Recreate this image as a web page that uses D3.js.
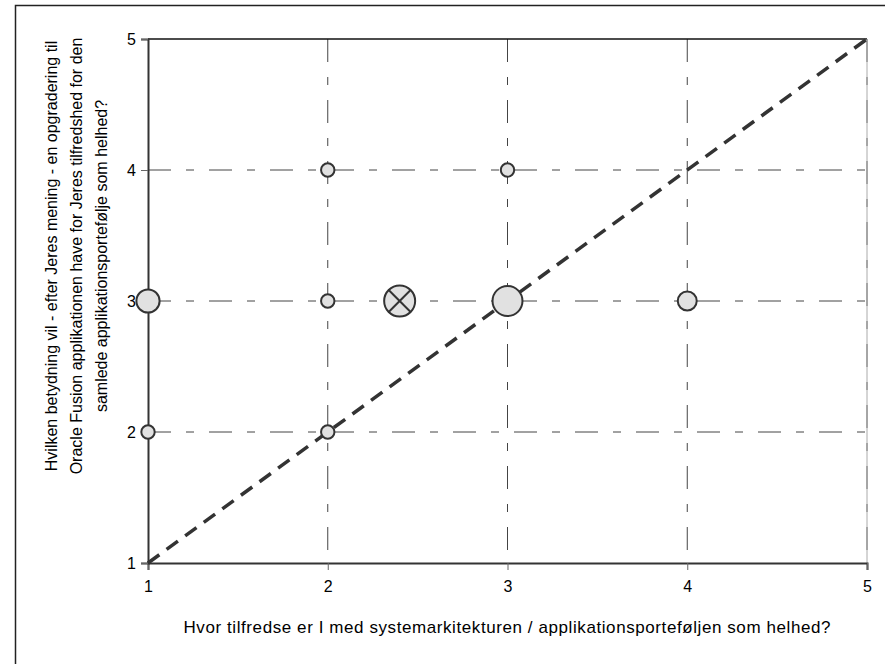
<!DOCTYPE html>
<html>
<head>
<meta charset="utf-8">
<script src="https://cdn.jsdelivr.net/npm/d3@7"></script>
<style>
  body { margin: 0; background: #fff; overflow: hidden; }
  svg { display: block; }
  text { font-family: Arial, "Liberation Sans", sans-serif; fill: #000; }
</style>
</head>
<body>
<div id="chart"></div>
<script>
// answers: x = satisfaction today, y = importance after upgrade, n = respondents
const xValues = [1, 1, 2, 2, 2, 3, 3, 4];
const yValues = [3, 2, 4, 3, 2, 4, 3, 3];
const counts = [3, 1, 1, 1, 1, 1, 5, 2];
const meanPoint = [2.4, 3];
const ticks = [1, 2, 3, 4, 5];
const xTitle = "Hvor tilfredse er I med systemarkitekturen / applikationsporteføljen som helhed?";
const yTitle = [
  "Hvilken betydning vil - efter Jeres mening - en opgradering til",
  "Oracle Fusion applikationen have for Jeres tilfredshed for den",
  "samlede applikationsportefølje som helhed?",
];

const width = 885, height = 664;
const margin = { top: 39, right: 18, bottom: 101, left: 148 };
const gridDash = "23,15,8,15";

const x = d3.scaleLinear().domain([1, 5]).range([margin.left, width - margin.right]);
const y = d3.scaleLinear().domain([1, 5]).range([height - margin.bottom, margin.top]);
const r = d3.scaleSqrt().domain([0, 1]).range([0, 6.7]);

const svg = d3.select("#chart").append("svg")
  .attr("width", width)
  .attr("height", height);

// outer frame (runs off the page to the right and bottom)
svg.append("rect")
  .attr("x", 15.5).attr("y", 5.5)
  .attr("width", 900).attr("height", 700)
  .attr("fill", "none").attr("stroke", "#222").attr("stroke-width", 1.5);

// grid
const grid = svg.append("g").attr("class", "grid")
  .attr("stroke", "#444").attr("stroke-width", 1)
  .attr("stroke-dasharray", gridDash);
grid.selectAll(".h").data(ticks.slice(1, 4)).join("line")
  .attr("class", "h")
  .attr("x1", x(1)).attr("x2", x(5))
  .attr("y1", (d) => y(d)).attr("y2", (d) => y(d));
grid.selectAll(".v").data(ticks.slice(1)).join("line")
  .attr("class", "v")
  .attr("y1", y(5)).attr("y2", y(1))
  .attr("x1", (d) => x(d)).attr("x2", (d) => x(d));

// top border + light right border
svg.append("line")
  .attr("x1", x(1)).attr("x2", x(5)).attr("y1", y(5)).attr("y2", y(5))
  .attr("stroke", "#111").attr("stroke-width", 1.5);
svg.append("line")
  .attr("x1", x(5)).attr("x2", x(5)).attr("y1", y(5)).attr("y2", y(1))
  .attr("stroke", "#aaa").attr("stroke-width", 1);

// axes
const gX = svg.append("g")
  .attr("transform", `translate(0,${y(1)})`)
  .call(d3.axisBottom(x).tickValues(ticks).tickSize(7).tickPadding(11).tickFormat(d3.format("d")));
const gY = svg.append("g")
  .attr("transform", `translate(${x(1)},0)`)
  .call(d3.axisLeft(y).tickValues(ticks).tickSize(7).tickPadding(5).tickFormat(d3.format("d")));
[gX, gY].forEach((g) => {
  g.attr("font-size", null).attr("font-family", null);
  g.select(".domain").attr("stroke", "#333").attr("stroke-width", 2);
  g.selectAll(".tick line").attr("stroke", "#666");
  g.selectAll(".tick text").style("font-size", "16px").attr("fill", "#000");
});

// diagonal reference line
svg.append("line")
  .attr("x1", x(1)).attr("y1", y(1))
  .attr("x2", x(5)).attr("y2", y(5))
  .attr("stroke", "#333").attr("stroke-width", 3.5)
  .attr("stroke-dasharray", "14,9");

// bubbles
svg.append("g").selectAll("circle")
  .data(xValues.map((d, i) => [d, yValues[i], counts[i]]))
  .join("circle")
  .attr("cx", (d) => x(d[0]))
  .attr("cy", (d) => y(d[1]))
  .attr("r", (d) => r(d[2]))
  .attr("fill", "#e1e1e1")
  .attr("stroke", "#333")
  .attr("stroke-width", 2);

// mean marker
const mr = 15.5;
const gMean = svg.append("g")
  .attr("transform", `translate(${x(meanPoint[0])},${y(meanPoint[1])})`);
gMean.append("circle")
  .attr("r", mr).attr("fill", "#e1e1e1")
  .attr("stroke", "#333").attr("stroke-width", 2);
const k = mr * Math.SQRT1_2;
gMean.selectAll("line").data([[-k, -k, k, k], [-k, k, k, -k]]).join("line")
  .attr("x1", (d) => d[0]).attr("y1", (d) => d[1])
  .attr("x2", (d) => d[2]).attr("y2", (d) => d[3])
  .attr("stroke", "#333").attr("stroke-width", 2);

// titles
svg.append("text")
  .attr("x", 507).attr("y", 633)
  .attr("text-anchor", "middle")
  .style("font-size", "17px")
  .attr("textLength", 647)
  .attr("lengthAdjust", "spacing")
  .text(xTitle);

svg.append("text")
  .attr("transform", "translate(0,256) rotate(-90)")
  .attr("text-anchor", "middle")
  .style("font-size", "16px")
  .selectAll("tspan").data(yTitle).join("tspan")
  .attr("x", 0)
  .attr("y", (d, i) => 57 + i * 25)
  .text((d) => d);
</script>
</body>
</html>
